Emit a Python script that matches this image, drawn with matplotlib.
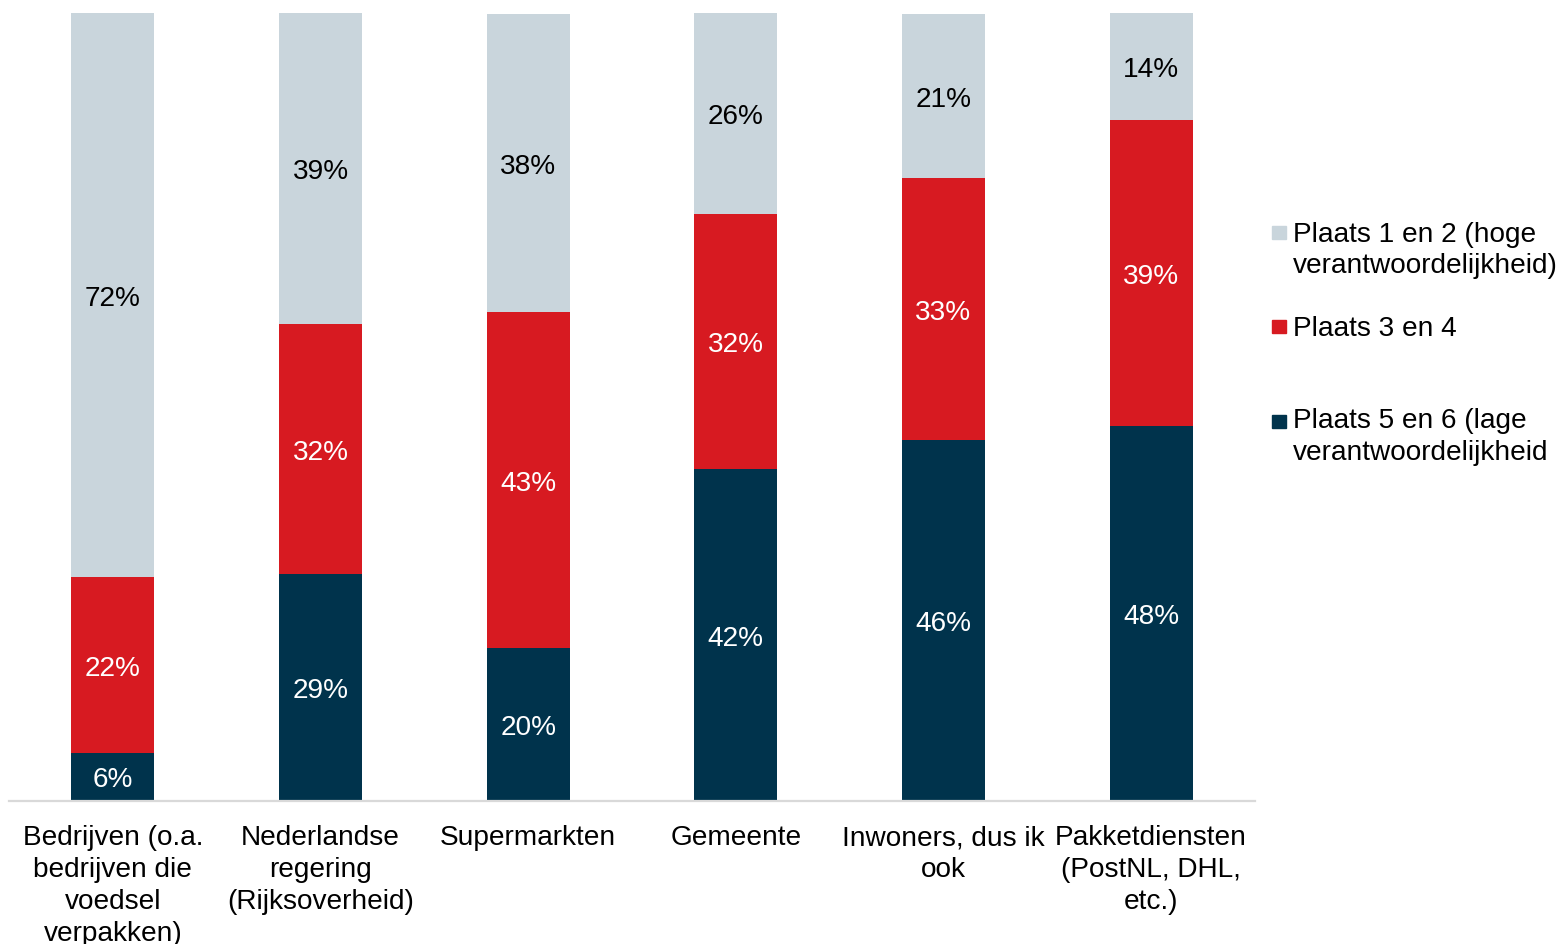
import matplotlib
matplotlib.use("Agg")
import matplotlib.pyplot as plt
from matplotlib.patches import Rectangle
import numpy as np

plt.rcParams['font.family'] = ['Liberation Sans', 'DejaVu Sans']

categories = ["Bedrijven (o.a.\nbedrijven die\nvoedsel\nverpakken)",
              "Nederlandse\nregering\n(Rijksoverheid)",
              "Supermarkten",
              "Gemeente",
              "Inwoners, dus ik\nook",
              "Pakketdiensten\n(PostNL, DHL,\netc.)"]
low = [6.1, 28.8, 19.4, 42.1, 45.8, 47.6]      # Plaats 5 en 6
mid = [22.3, 31.7, 42.6, 32.4, 33.2, 38.8]     # Plaats 3 en 4
high = [71.6, 39.5, 37.9, 25.5, 20.9, 13.6]    # Plaats 1 en 2
low_labels = ["6%", "29%", "20%", "42%", "46%", "48%"]
mid_labels = ["22%", "32%", "43%", "32%", "33%", "39%"]
high_labels = ["72%", "39%", "38%", "26%", "21%", "14%"]
series_names = ["Plaats 1 en 2 (hoge\nverantwoordelijkheid)",
                "Plaats 3 en 4",
                "Plaats 5 en 6 (lage\nverantwoordelijkheid"]

c_high = "#C9D5DC"
c_mid = "#D71A21"
c_low = "#00334C"

W, H = 1558, 944
fig = plt.figure(figsize=(W / 100, H / 100), dpi=100)
ax = fig.add_axes([9 / W, (H - 801) / H, (1255 - 9) / W, (801 - 13) / H])

x = np.arange(len(categories))
bw = 0.4
fs = 20.2
b1 = ax.bar(x, low, bw, color=c_low)
b2 = ax.bar(x, mid, bw, bottom=low, color=c_mid)
bottom3 = np.array(low) + np.array(mid)
b3 = ax.bar(x, high, bw, bottom=bottom3, color=c_high)

anns = []
anns += ax.bar_label(b1, labels=low_labels, label_type='center', color='white', fontsize=fs)
anns += ax.bar_label(b2, labels=mid_labels, label_type='center', color='white', fontsize=fs)
anns += ax.bar_label(b3, labels=high_labels, label_type='center', color='black', fontsize=fs)
for a in anns:
    a.xyann = (0, -2.5)

ax.set_xlim(-0.5, len(categories) - 0.5)
ax.set_ylim(0, 100)
ax.set_yticks([])
ax.set_xticks(x)
ax.set_xticklabels(categories, fontsize=fs, linespacing=1.29)
ax.tick_params(axis='x', length=0, pad=17.5)
for s in ['top', 'right', 'left']:
    ax.spines[s].set_visible(False)
ax.spines['bottom'].set_color('#D9D9D9')
ax.spines['bottom'].set_linewidth(1.6)

# legend (manual)
entries = [(c_high, series_names[0], 226, [242, 273]),
           (c_mid, series_names[1], 320, [336]),
           (c_low, series_names[2], 415, [428, 460])]
for col, name, sq_top, baselines in entries:
    fig.patches.append(Rectangle((1272 / W, (H - sq_top - 13) / H), 14 / W, 13 / H,
                                 transform=fig.transFigure, color=col))
    for line, bl in zip(name.split("\n"), baselines):
        fig.text(1293 / W, (H - bl) / H, line, fontsize=fs, va='baseline', ha='left')

fig.savefig("out.png", dpi=100)
